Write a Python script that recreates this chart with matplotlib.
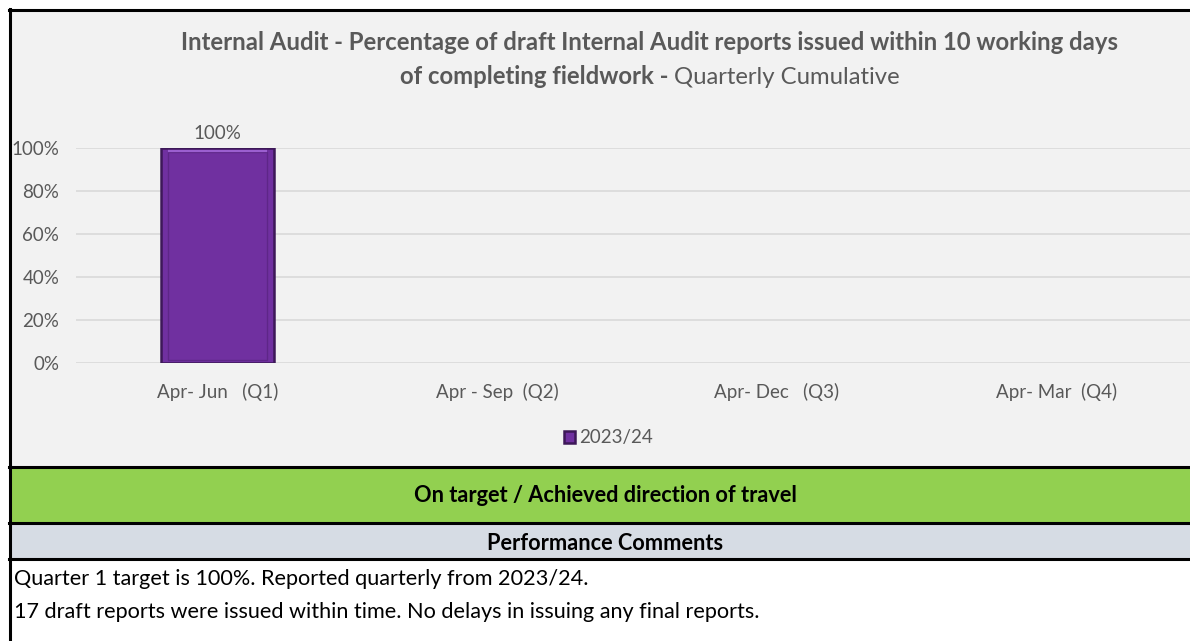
import matplotlib
matplotlib.use("Agg")
import matplotlib.pyplot as plt
from matplotlib.patches import Rectangle
from matplotlib.lines import Line2D

categories = ["Apr- Jun   (Q1)", "Apr - Sep  (Q2)", "Apr- Dec   (Q3)", "Apr- Mar  (Q4)"]
values_2023 = [1.0]          # only Q1 reported
series_name = "2023/24"
y_ticks = [0, 0.2, 0.4, 0.6, 0.8, 1.0]
y_tick_labels = ["0%", "20%", "40%", "60%", "80%", "100%"]
title_bold_1 = "Internal Audit - Percentage of draft Internal Audit reports issued within 10 working days"
title_bold_2 = "of completing fieldwork - "
title_regular_2 = "Quarterly Cumulative"
status_text = "On target / Achieved direction of travel"
comments_header = "Performance Comments"
comments = ["Quarter 1 target is 100%. Reported quarterly from 2023/24.",
            "17 draft reports were issued within time. No delays in issuing any final reports."]

W, H = 1190, 641
FONT = "Lato"
GREY = "#595959"
plt.rcParams["font.family"] = [FONT, "DejaVu Sans"]

fig = plt.figure(figsize=(W / 100, H / 100), dpi=100)
fig.patch.set_facecolor("white")

def fx(px):
    return px / W

def fy(py):
    return 1 - py / H

# background panels
fig.patches.append(Rectangle((fx(10), fy(467)), fx(W - 10), fy(10) - fy(467),
                             transform=fig.transFigure, facecolor="#f2f2f2", edgecolor="none", zorder=0))
fig.patches.append(Rectangle((fx(10), fy(523)), fx(W - 10), fy(467) - fy(523),
                             transform=fig.transFigure, facecolor="#92d050", edgecolor="none", zorder=0))
fig.patches.append(Rectangle((fx(10), fy(559)), fx(W - 10), fy(523) - fy(559),
                             transform=fig.transFigure, facecolor="#d6dce4", edgecolor="none", zorder=0))

# borders
for yy in [9.5, 467, 523, 559]:
    fig.add_artist(Line2D([fx(9), 1], [fy(yy), fy(yy)], transform=fig.transFigure,
                          color="black", lw=2.2, zorder=5))
fig.add_artist(Line2D([fx(10), fx(10)], [fy(9), 0], transform=fig.transFigure,
                      color="black", lw=2.2, zorder=5))

# axes
ax_left, ax_right, ax_top, ax_bottom = 76, 1190, 148, 363
ax = fig.add_axes([fx(ax_left), fy(ax_bottom), fx(ax_right - ax_left), fy(ax_top) - fy(ax_bottom)])
ax.set_zorder(2)
ax.set_facecolor("none")
x = list(range(len(categories)))
ax.set_xlim(-0.505, 3.478)
ax.set_ylim(0, 1)
bw = 0.404
ax.bar(x[:len(values_2023)], values_2023, width=bw, color="#7030a0",
       edgecolor="#3d1858", linewidth=1.8, zorder=3, label=series_name)
ax.bar(x[:len(values_2023)], [v - 0.035 for v in values_2023], bottom=0.015, width=bw * 0.88,
       color="none", edgecolor="#5e2688", linewidth=1.0, zorder=4)
ax.plot([x[0] - bw * 0.44, x[0] + bw * 0.44], [values_2023[0] - 0.012] * 2,
        color="#9b5fd0", lw=1.6, zorder=5, solid_capstyle="butt")
for xi, v in zip(x, values_2023):
    ax.text(xi, v + 0.03, f"{v:.0%}", ha="center", va="bottom", fontsize=13.5, color=GREY)

ax.set_yticks(y_ticks)
ax.set_yticklabels(y_tick_labels)
ax.set_xticks(x)
ax.set_xticklabels(categories)
ax.tick_params(axis="both", length=0, labelsize=13.5, labelcolor=GREY)
ax.tick_params(axis="x", pad=14)
ax.tick_params(axis="y", pad=12)
ax.grid(axis="y", color="#d9d9d9", lw=1.2, zorder=0)
for s in ax.spines.values():
    s.set_visible(False)

ax.legend(loc="center", bbox_to_anchor=(fx(608), fy(438)), bbox_transform=fig.transFigure,
          frameon=False, fontsize=13.5, handlelength=0.6, handleheight=0.6, handletextpad=0.2,
          labelcolor=GREY)

# titles
TS = 17.2
fig.text(fx(650), fy(42), title_bold_1, ha="center", va="center", fontsize=TS, fontweight="bold", color=GREY)
t1 = fig.text(fx(650), fy(77), title_bold_2, ha="right", va="center", fontsize=TS, fontweight="bold", color=GREY)
fig.canvas.draw()
bb = t1.get_window_extent()
t2 = fig.text(bb.x1 / W, fy(77), title_regular_2, ha="left", va="center", fontsize=TS, color=GREY)
fig.canvas.draw()
bb2 = t2.get_window_extent()
shift = (650 - (bb.x0 + bb2.x1) / 2) / W
t1.set_x(t1.get_position()[0] + shift)
t2.set_x(t2.get_position()[0] + shift)

fig.text(fx(605), fy(495), status_text, ha="center", va="center", fontsize=15.7, fontweight="bold", color="black")
fig.text(fx(605), fy(543), comments_header, ha="center", va="center", fontsize=15.7, fontweight="bold", color="black")
for i, c in enumerate(comments):
    fig.text(fx(14), fy(579 + 33 * i), c, ha="left", va="center", fontsize=15.6, color="black")

fig.savefig("out.png", dpi=100)
